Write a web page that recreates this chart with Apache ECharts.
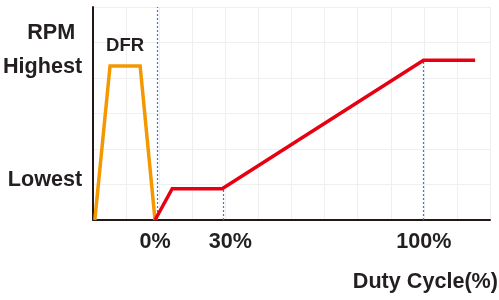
<!DOCTYPE html>
<html>
<head>
<meta charset="utf-8">
<script src="https://cdn.jsdelivr.net/npm/echarts@6/dist/echarts.min.js"></script>
<style>html,body{margin:0;padding:0;background:#fff}#c{width:499px;height:300px}</style>
</head>
<body>
<div id="c"></div>
<script>
// DFR (orange) segment
const dfrX = [0.05, 0.51, 1.42, 1.87];
const dfrY = [0, 4.34, 4.34, 0];
// Duty-controlled (red) segment
const dutyX = [1.87, 2.39, 3.9, 9.99, 11.55];
const dutyY = [0, 0.88, 0.88, 4.5, 4.5];
// Reference (dashed) lines
const refX = [1.93, 3.92, 9.98];
const refTop = [6, 0.88, 4.5];
// X tick labels
const xTickPos = [1.87, 4.15, 10.0];
const xTickLabels = ['0%', '30%', '100%'];
// Y tick labels
const yTickPos = [5.27, 4.31, 1.13];
const yTickLabels = ['RPM', 'Highest', 'Lowest'];

const FONT = "'Liberation Sans', Arial, sans-serif";
const TXT = '#231f20';
const FS = 21.6;

const chart = echarts.init(document.getElementById('c'), null, {renderer: 'canvas'});
chart.setOption({
  animation: false,
  grid: {left: 93, right: 9, top: 7, bottom: 80},
  xAxis: {
    type: 'value', min: 0, max: 12, interval: 1,
    axisLine: {show: true, onZero: false, lineStyle: {color: '#231815', width: 2}},
    axisTick: {show: false},
    splitLine: {show: true, lineStyle: {color: '#efefef', width: 1}},
    axisLabel: {
      customValues: xTickPos,
      margin: 12,
      formatter: function (v) { const i = xTickPos.indexOf(v); return i >= 0 ? xTickLabels[i] : ''; },
      fontFamily: FONT, fontWeight: 'bold', fontSize: FS, color: TXT, lineHeight: 21
    }
  },
  yAxis: {
    type: 'value', min: 0, max: 6, interval: 1,
    axisLine: {show: true, lineStyle: {color: '#231815', width: 2}},
    axisTick: {show: false},
    splitLine: {show: true, lineStyle: {color: '#efefef', width: 1}},
    axisLabel: {
      customValues: yTickPos,
      margin: 11,
      formatter: function (v) {
        const i = yTickPos.indexOf(v);
        if (i < 0) return '';
        return i === 0 ? '{r|' + yTickLabels[i] + '}' : yTickLabels[i];
      },
      fontFamily: FONT, fontWeight: 'bold', fontSize: FS, color: TXT,
      rich: {r: {fontFamily: FONT, fontWeight: 'bold', fontSize: FS, color: TXT, padding: [0, 7, 0, 0]}}
    }
  },
  graphic: [{
    type: 'text', right: 1, top: 271,
    style: {text: 'Duty Cycle(%)', font: 'bold ' + FS + 'px ' + FONT, fill: TXT}
  }],
  series: [
    {
      type: 'line', symbol: 'none', z: 3,
      data: [],
      markLine: {
        symbol: ['none', 'none'], silent: true, label: {show: false},
        lineStyle: {color: '#2b83c9', width: 1.2, type: [2, 2]},
        data: refX.map((x, i) => [{coord: [x, 0]}, {coord: [x, refTop[i]]}])
      }
    },
    {
      type: 'line', symbol: 'none', z: 4,
      data: dfrX.map((x, i) => [x, dfrY[i]]),
      lineStyle: {color: '#f39800', width: 3.5, join: 'miter'},
      markPoint: {
        symbol: 'circle', symbolSize: 0,
        data: [{coord: [(dfrX[1] + dfrX[2]) / 2, dfrY[1]], value: 'DFR'}],
        label: {show: true, position: 'inside', offset: [0, -20], formatter: 'DFR',
          fontFamily: FONT, fontWeight: 'bold', fontSize: 18.5, color: TXT}
      }
    },
    {
      type: 'line', symbol: 'none', z: 5,
      data: dutyX.map((x, i) => [x, dutyY[i]]),
      lineStyle: {color: '#e60012', width: 3.5, join: 'miter'}
    }
  ]
});
</script>
</body>
</html>
